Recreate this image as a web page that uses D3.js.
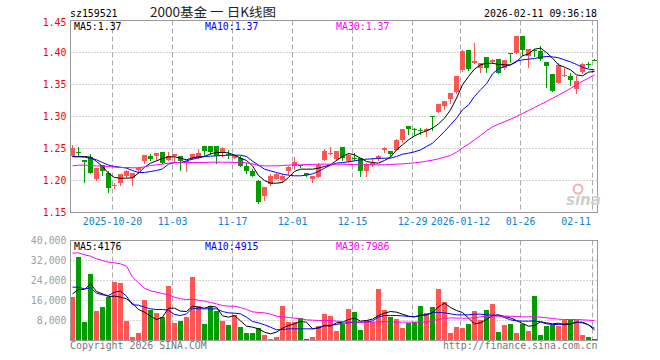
<!DOCTYPE html>
<html>
<head>
<meta charset="utf-8">
<script src="https://cdn.jsdelivr.net/npm/d3@7"></script>
<style>
body { margin: 0; background: #fff; }
text { font-family: "DejaVu Sans Mono", monospace; font-size: 9.9px; }
</style>
</head>
<body>
<div id="kline"></div>
<script>
// trading days shown on the chart
var dates = ["2025-10-09","2025-10-10","2025-10-13","2025-10-14","2025-10-15","2025-10-16","2025-10-17","2025-10-20","2025-10-21","2025-10-22",
  "2025-10-23","2025-10-24","2025-10-27","2025-10-28","2025-10-29","2025-10-30","2025-10-31","2025-11-03","2025-11-04","2025-11-05",
  "2025-11-06","2025-11-07","2025-11-10","2025-11-11","2025-11-12","2025-11-13","2025-11-14","2025-11-17","2025-11-18","2025-11-19",
  "2025-11-20","2025-11-21","2025-11-24","2025-11-25","2025-11-26","2025-11-27","2025-11-28","2025-12-01","2025-12-02","2025-12-03",
  "2025-12-04","2025-12-05","2025-12-08","2025-12-09","2025-12-10","2025-12-11","2025-12-12","2025-12-15","2025-12-16","2025-12-17",
  "2025-12-18","2025-12-19","2025-12-22","2025-12-23","2025-12-24","2025-12-25","2025-12-26","2025-12-29","2025-12-30","2025-12-31",
  "2026-01-05","2026-01-06","2026-01-07","2026-01-08","2026-01-09","2026-01-12","2026-01-13","2026-01-14","2026-01-15","2026-01-16",
  "2026-01-19","2026-01-20","2026-01-21","2026-01-22","2026-01-23","2026-01-26","2026-01-27","2026-01-28","2026-01-29","2026-01-30",
  "2026-02-02","2026-02-03","2026-02-04","2026-02-05","2026-02-06","2026-02-09","2026-02-10","2026-02-11"];

var open = [1.2385,1.2443,1.2323,1.2365,1.2021,1.2245,1.2125,1.1917,1.1958,1.2073,
  1.2036,1.2167,1.2307,1.2385,1.2385,1.2448,1.2313,1.2385,1.2375,1.2271,
  1.2349,1.2359,1.2536,1.2536,1.2536,1.2438,1.2417,1.2359,1.2359,1.2234,
  1.2151,1.1995,1.1750,1.1943,1.2031,1.2010,1.2141,1.2219,1.2245,1.2115,
  1.2021,1.2047,1.2323,1.2422,1.2339,1.2521,1.2307,1.2354,1.2359,1.2141,
  1.2245,1.2359,1.2479,1.2464,1.2469,1.2635,1.2854,1.2797,1.2787,1.2766,
  1.3000,1.3078,1.3167,1.3276,1.3385,1.3719,1.4042,1.3833,1.3755,1.3922,
  1.3844,1.3896,1.3755,1.3990,1.4000,1.4260,1.3938,1.4042,1.4016,1.3849,
  1.3667,1.3531,1.3641,1.3635,1.3432,1.3688,1.3823,1.3885];
var high = [1.2557,1.2521,1.2323,1.2417,1.2193,1.2245,1.2141,1.1958,1.2104,1.2167,
  1.2115,1.2208,1.2391,1.2417,1.2432,1.2448,1.2453,1.2417,1.2375,1.2307,
  1.2417,1.2495,1.2536,1.2536,1.2536,1.2531,1.2479,1.2391,1.2375,1.2271,
  1.2177,1.2010,1.1891,1.2099,1.2125,1.2104,1.2229,1.2365,1.2245,1.2115,
  1.2063,1.2271,1.2490,1.2521,1.2464,1.2521,1.2427,1.2427,1.2359,1.2271,
  1.2349,1.2401,1.2531,1.2464,1.2651,1.2802,1.2854,1.2823,1.2823,1.2813,
  1.3000,1.3198,1.3245,1.3375,1.3635,1.4042,1.4042,1.4146,1.3833,1.3932,
  1.3896,1.3896,1.3885,1.3990,1.4260,1.4260,1.4052,1.4052,1.4094,1.3849,
  1.3667,1.3833,1.3755,1.3677,1.3625,1.3833,1.3859,1.3896];
var low = [1.2385,1.2401,1.1984,1.2115,1.2005,1.2089,1.1813,1.1880,1.1922,1.2057,
  1.1922,1.2125,1.2281,1.2313,1.2323,1.2271,1.2313,1.2297,1.2167,1.2141,
  1.2333,1.2349,1.2375,1.2417,1.2271,1.2375,1.2359,1.2349,1.2219,1.2125,
  1.2063,1.1656,1.1688,1.1922,1.2021,1.1984,1.2104,1.2177,1.2208,1.2063,
  1.1974,1.2047,1.2313,1.2417,1.2323,1.2323,1.2286,1.2323,1.2073,1.2063,
  1.2229,1.2323,1.2453,1.2375,1.2469,1.2609,1.2724,1.2724,1.2724,1.2688,
  1.2792,1.3063,1.3120,1.3208,1.3375,1.3708,1.3729,1.3833,1.3688,1.3688,
  1.3833,1.3677,1.3740,1.3844,1.3990,1.3964,1.3771,1.3938,1.3885,1.3458,
  1.3391,1.3521,1.3625,1.3495,1.3365,1.3677,1.3781,1.3875];
var close = [1.2505,1.2432,1.2286,1.2115,1.2193,1.2141,1.1875,1.1927,1.2104,1.2141,
  1.2115,1.2203,1.2391,1.2333,1.2432,1.2271,1.2385,1.2417,1.2297,1.2307,
  1.2411,1.2427,1.2464,1.2453,1.2385,1.2510,1.2406,1.2391,1.2229,1.2156,
  1.2073,1.1667,1.1891,1.2073,1.2094,1.2078,1.2214,1.2292,1.2219,1.2089,
  1.2063,1.2245,1.2464,1.2432,1.2464,1.2359,1.2401,1.2349,1.2141,1.2260,
  1.2281,1.2385,1.2500,1.2417,1.2635,1.2802,1.2802,1.2792,1.2781,1.2802,
  1.2995,1.3198,1.3245,1.3375,1.3635,1.4031,1.3740,1.3870,1.3833,1.3755,
  1.3875,1.3677,1.3885,1.3985,1.4250,1.4042,1.4052,1.4016,1.3896,1.3792,
  1.3406,1.3807,1.3651,1.3573,1.3547,1.3823,1.3818,1.3880];
var volume = [17333,33333,7600,26800,12000,13600,17333,23600,22933,7733,
  1600,2800,16400,12400,11200,9600,22000,7200,8000,9600,
  25600,14000,6800,13733,12000,8000,6400,10400,5333,2800,
  3200,4933,2000,400,1200,14000,7333,7333,9067,400,
  1200,6000,10800,10000,4000,6667,12800,11600,4400,8400,
  7600,20800,12400,9600,8800,5200,7067,7600,14000,11200,
  13600,20800,15600,3200,5600,5200,6800,12000,8400,12400,
  14800,3600,6400,6800,3200,6800,4000,18000,2000,6000,
  6400,6000,8400,8400,8400,2400,1200,400];

// moving averages as drawn on the chart
var ma5 = [1.2375,1.2375,1.2375,1.2365,1.2297,1.2219,1.2115,1.2047,1.2036,1.2036,
  1.2042,1.2115,1.2208,1.2271,1.2307,1.2344,1.2370,1.2370,1.2349,1.2323,
  1.2354,1.2370,1.2375,1.2417,1.2438,1.2438,1.2432,1.2396,1.2349,1.2313,
  1.2229,1.2078,1.2000,1.1958,1.1958,1.1969,1.2047,1.2141,1.2177,1.2177,
  1.2177,1.2193,1.2219,1.2245,1.2313,1.2375,1.2422,1.2401,1.2349,1.2297,
  1.2281,1.2271,1.2313,1.2365,1.2479,1.2557,1.2635,1.2698,1.2740,1.2776,
  1.2818,1.2885,1.2974,1.3104,1.3286,1.3495,1.3625,1.3740,1.3807,1.3833,
  1.3833,1.3813,1.3807,1.3807,1.3854,1.3948,1.3979,1.4052,1.4068,1.4000,
  1.3911,1.3807,1.3771,1.3729,1.3651,1.3635,1.3693,1.3703];
var ma10 = [1.2370,1.2370,1.2365,1.2349,1.2323,1.2281,1.2240,1.2219,1.2208,1.2193,
  1.2156,1.2125,1.2125,1.2141,1.2156,1.2182,1.2255,1.2281,1.2281,1.2307,
  1.2333,1.2354,1.2375,1.2380,1.2385,1.2391,1.2396,1.2396,1.2396,1.2375,
  1.2302,1.2240,1.2177,1.2151,1.2125,1.2099,1.2083,1.2073,1.2073,1.2083,
  1.2104,1.2141,1.2193,1.2240,1.2271,1.2281,1.2292,1.2307,1.2323,1.2333,
  1.2339,1.2344,1.2349,1.2349,1.2375,1.2411,1.2427,1.2448,1.2479,1.2531,
  1.2583,1.2672,1.2766,1.2870,1.2974,1.3104,1.3182,1.3313,1.3417,1.3510,
  1.3667,1.3745,1.3781,1.3807,1.3865,1.3885,1.3896,1.3906,1.3927,1.3938,
  1.3932,1.3917,1.3885,1.3854,1.3813,1.3771,1.3740,1.3729];
var ma30 = [1.2229,1.2240,1.2240,1.2234,1.2229,1.2224,1.2219,1.2208,1.2203,1.2203,
  1.2198,1.2198,1.2214,1.2234,1.2245,1.2255,1.2271,1.2281,1.2281,1.2281,
  1.2281,1.2281,1.2281,1.2286,1.2286,1.2286,1.2286,1.2281,1.2281,1.2276,
  1.2260,1.2234,1.2229,1.2229,1.2229,1.2234,1.2240,1.2245,1.2245,1.2250,
  1.2250,1.2255,1.2255,1.2255,1.2255,1.2255,1.2250,1.2250,1.2245,1.2245,
  1.2245,1.2245,1.2245,1.2250,1.2255,1.2260,1.2266,1.2276,1.2286,1.2302,
  1.2318,1.2339,1.2365,1.2391,1.2443,1.2510,1.2568,1.2635,1.2703,1.2776,
  1.2839,1.2880,1.2917,1.2958,1.3000,1.3047,1.3094,1.3141,1.3188,1.3234,
  1.3286,1.3333,1.3385,1.3438,1.3495,1.3552,1.3599,1.3651];
var vma5 = [18667,20400,20400,22667,19600,18667,17600,17733,17333,16667,
  14933,12400,11333,9733,8400,9333,12933,12933,11733,11600,
  13733,13333,12933,13733,13333,9867,9333,10000,7867,5733,
  5333,4667,3333,2667,3333,4933,6000,6667,7600,7333,
  4667,4933,6000,5733,7067,7333,8400,8933,7733,8000,
  8533,10000,10933,11600,11333,10533,9733,9467,10000,10267,
  11067,13467,14933,13200,12000,11200,8933,6667,7067,8400,
  10000,10267,9600,9067,8000,6800,5733,6000,7467,7067,
  6667,6933,6267,6533,7333,7333,6267,4176];
var vma10 = [21333,21333,20667,21067,18933,18267,18000,19333,19733,17733,
  14267,14133,13333,12667,12400,12400,12133,10400,10000,10667,
  12933,12667,12667,12667,12667,11600,11067,10933,10667,9333,
  7600,7067,6267,5333,4267,4400,4667,4667,4667,4667,
  4667,5200,5867,6133,6400,6933,7067,7333,7333,7333,
  7867,9333,10000,10000,10000,9867,9600,9467,10133,10267,
  11333,11200,11067,10667,10267,10267,10267,10533,10533,10267,
  10133,10000,9200,8267,7867,7733,7733,7867,7467,6667,
  6400,6400,6667,6800,7200,7067,6267,4915];
var vma30 = [34933,35067,34267,33733,32667,32000,31333,31067,30667,29733,
  25333,23067,20933,19867,19333,18800,18267,17333,16667,16400,
  16533,16133,15733,15200,14667,14000,13733,13733,13200,12400,
  11467,11200,11067,10533,9733,9467,9200,8933,8667,8267,
  8133,8000,8000,8000,7733,7600,7467,7333,7333,7333,
  7333,7467,7600,7467,7333,7333,7333,7333,7333,7333,
  8000,8400,8800,9067,8933,8933,8933,9067,9467,9733,
  9733,9733,9733,9733,9600,9467,9467,9600,9333,9067,
  8800,8533,8400,8400,8400,8267,8133,7986];

var tickDates = ["2025-10-20","2025-11-03","2025-11-17","2025-12-01","2025-12-15","2025-12-29","2026-01-12","2026-01-26","2026-02-11"];
var tickLabels = ["2025-10-20","11-03","11-17","12-01","12-15","12-29","2026-01-12","01-26","02-11"];
var priceTicks = [1.15,1.20,1.25,1.30,1.35,1.40,1.45];
var volTicks = [8000,16000,24000,32000,40000];

var width = 660, height = 360;
var left = 70.5, right = 597.5;
var red = "#ff5555", green = "#009c00";
var svg = d3.select("#kline").append("svg").attr("width", width).attr("height", height);
svg.append("rect").attr("width", width).attr("height", height).attr("fill", "#fff");

var x = d3.scaleBand().domain(dates).range([70, 598]);
var y = d3.scaleLinear().domain([1.15, 1.45]).range([212.5, 20.5]);
var yv = d3.scaleLinear().domain([0, 40000]).range([340.5, 240.5]);

// horizontal dotted grid
svg.append("g").selectAll("line").data(priceTicks.slice(1, -1)).enter().append("line")
  .attr("x1", left).attr("x2", right).attr("y1", d => y(d)).attr("y2", d => y(d))
  .attr("stroke", "#aaa").attr("stroke-dasharray", "1,2");
svg.append("g").selectAll("line").data(volTicks.slice(0, -1)).enter().append("line")
  .attr("x1", left).attr("x2", right).attr("y1", d => yv(d)).attr("y2", d => yv(d))
  .attr("stroke", "#aaa").attr("stroke-dasharray", "1,2");

// vertical dashed grid
tickDates.forEach(function(d){
  var gx = x(d) + 0.5;
  svg.append("line").attr("x1", gx).attr("x2", gx).attr("y1", 20.5).attr("y2", 212.5)
    .attr("stroke", "#aaa").attr("stroke-dasharray", "5,3");
  svg.append("line").attr("x1", gx).attr("x2", gx).attr("y1", 240.5).attr("y2", 340.5)
    .attr("stroke", "#aaa").attr("stroke-dasharray", "5,3");
});

// axes labels
var yaxis = d3.axisLeft(y).tickValues(priceTicks).tickFormat(d3.format(".2f")).tickSize(0).tickPadding(4);
var ga = svg.append("g").attr("transform", "translate(" + left + ",0)").call(yaxis);
ga.select(".domain").remove();
ga.selectAll("text").attr("fill", "#f00").style("font-family", "DejaVu Sans Mono").style("font-size", "9.9px");
ga.selectAll(".tick").filter(d => d == 1.45).select("text").attr("y", 2);

var vaxis = d3.axisLeft(yv).tickValues(volTicks).tickSize(0).tickPadding(4);
var gv = svg.append("g").attr("transform", "translate(" + left + ",0)").call(vaxis);
gv.select(".domain").remove();
gv.selectAll("text").attr("fill", "#a0a0a0").style("font-family", "DejaVu Sans Mono").style("font-size", "9.9px");

tickDates.forEach(function(d, i){
  var t = svg.append("text").attr("x", x(d) + 0.5).attr("y", 225).attr("text-anchor", "middle")
    .attr("fill", "#0b84d8").text(tickLabels[i]);
  var w = t.node().getComputedTextLength();
  if (x(d) + 0.5 + w / 2 > right) t.attr("text-anchor", "end").attr("x", 591);
});

// candles
var candles = svg.append("g").attr("shape-rendering", "crispEdges");
dates.forEach(function(d, i){
  var up = close[i] >= open[i];
  var c = up ? red : green;
  candles.append("line").attr("x1", x(d) + 2.5).attr("x2", x(d) + 2.5)
    .attr("y1", Math.round(y(high[i]))).attr("y2", Math.round(y(low[i])) + 1).attr("stroke", c);
  var top = Math.round(y(Math.max(open[i], close[i])));
  var bot = Math.round(y(Math.min(open[i], close[i])));
  candles.append("rect").attr("x", x(d)).attr("width", 5)
    .attr("y", top).attr("height", Math.max(1, bot - top)).attr("fill", c);
  candles.append("rect").attr("x", x(d)).attr("width", 5)
    .attr("y", Math.round(yv(volume[i]))).attr("height", 340 - Math.round(yv(volume[i]))).attr("fill", c);
});

// moving average lines
var pline = d3.line().x((d, i) => x(dates[i]) + 2.5).y(d => y(d));
var vline = d3.line().x((d, i) => x(dates[i]) + 2.5).y(d => yv(d));
[[ma5, "#000"], [ma10, "#00f"], [ma30, "#f0f"]].forEach(function(m){
  svg.append("path").attr("d", pline(m[0])).attr("fill", "none").attr("stroke", m[1]).attr("stroke-width", 1);
});
[[vma5, "#000"], [vma10, "#00f"], [vma30, "#f0f"]].forEach(function(m){
  svg.append("path").attr("d", vline(m[0])).attr("fill", "none").attr("stroke", m[1]).attr("stroke-width", 1);
});

// frames
svg.append("rect").attr("x", left).attr("y", 20.5).attr("width", right - left).attr("height", 192)
  .attr("fill", "none").attr("stroke", "#999");
svg.append("rect").attr("x", left).attr("y", 240.5).attr("width", right - left).attr("height", 100)
  .attr("fill", "none").attr("stroke", "#999");

// header
svg.append("text").attr("x", 70).attr("y", 17).attr("fill", "#000").text("sz159521");
svg.append("text").attr("x", 150).attr("y", 17).attr("fill", "#222")
  .attr("textLength", 126).attr("lengthAdjust", "spacingAndGlyphs")
  .style("font-family", "'Noto Sans CJK SC'").style("font-size", "12.5px").text("2000基金 一 日K线图");
svg.append("text").attr("x", 597).attr("y", 17).attr("text-anchor", "end").attr("fill", "#000").text("2026-02-11 09:36:18");

svg.append("text").attr("x", 74).attr("y", 30).attr("fill", "#000").text("MA5:" + ma5[87].toFixed(2));
svg.append("text").attr("x", 205).attr("y", 30).attr("fill", "#00f").text("MA10:" + ma10[87].toFixed(2));
svg.append("text").attr("x", 336).attr("y", 30).attr("fill", "#f0f").text("MA30:" + ma30[87].toFixed(2));
svg.append("text").attr("x", 74).attr("y", 249.5).attr("fill", "#000").text("MA5:" + vma5[87]);
svg.append("text").attr("x", 205).attr("y", 249.5).attr("fill", "#00f").text("MA10:" + vma10[87]);
svg.append("text").attr("x", 336).attr("y", 249.5).attr("fill", "#f0f").text("MA30:" + vma30[87]);

// watermark
svg.append("circle").attr("cx", 578).attr("cy", 189).attr("r", 4.5).attr("fill", "none").attr("stroke", "#f3b0b0").attr("stroke-width", 2);
svg.append("text").attr("x", 566).attr("y", 205).attr("fill", "#cfcfcf")
  .style("font-family", "'DejaVu Sans'").style("font-size", "15px").style("font-style", "italic").style("font-weight", "bold").text("sina");

// footer
svg.append("text").attr("x", 70).attr("y", 349).attr("fill", "#777").text("Copyright 2026 SINA.COM");
svg.append("text").attr("x", 597.5).attr("y", 349).attr("text-anchor", "end").attr("fill", "#777").text("http://finance.sina.com.cn");
</script>
</body>
</html>
